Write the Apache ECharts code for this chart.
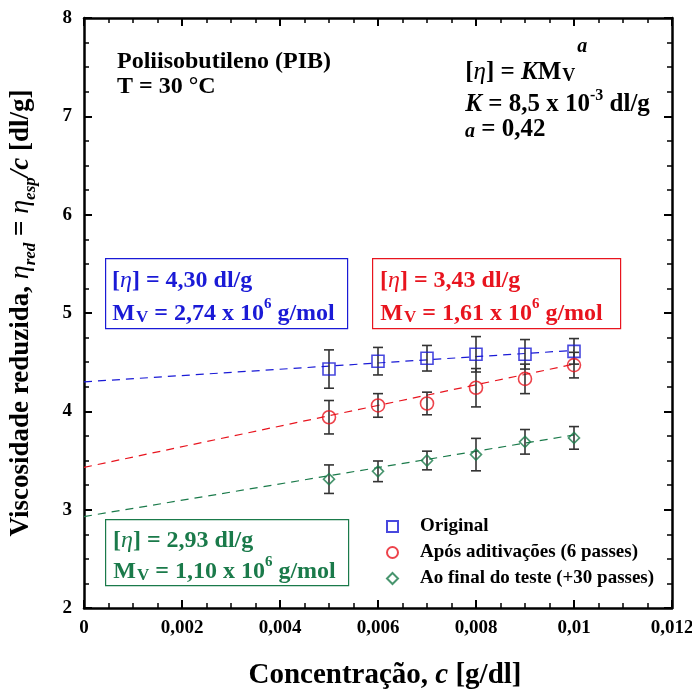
<!DOCTYPE html>
<html><head><meta charset="utf-8">
<script src="https://cdn.jsdelivr.net/npm/echarts@6/dist/echarts.min.js"></script>
<style>html,body{margin:0;padding:0;background:#fff}#c{width:692px;height:689px}</style>
</head><body><div id="c"></div>
<script>
var conc = [0.005, 0.006, 0.007, 0.008, 0.009, 0.010];
var original = [4.43, 4.51, 4.54, 4.58, 4.58, 4.61];
var originalErr = [0.195, 0.14, 0.13, 0.18, 0.15, 0.13];
var apos = [3.94, 4.06, 4.08, 4.24, 4.33, 4.47];
var aposErr = [0.17, 0.12, 0.115, 0.195, 0.15, 0.13];
var finalT = [3.31, 3.39, 3.50, 3.56, 3.69, 3.73];
var finalErr = [0.145, 0.105, 0.095, 0.165, 0.125, 0.115];
var fitX = [0, 0.010];
var fitOriginal = [4.30, 4.62];
var fitApos = [3.43, 4.48];
var fitFinal = [2.93, 3.76];
var seriesNames = ['Original', 'Após aditivações (6 passes)', 'Ao final do teste (+30 passes)'];
var xTicks = ['0', '0,002', '0,004', '0,006', '0,008', '0,01', '0,012'];

var FONT = '"Liberation Serif", "Times New Roman", serif';
var BLUE = '#1a1ad6', RED = '#e8141e', GREEN = '#1a7a4a';

function pairs(xs, ys) { return xs.map(function (x, i) { return [x, ys[i]]; }); }
function errData(xs, ys, es) { return xs.map(function (x, i) { return [x, ys[i] - es[i], ys[i] + es[i]]; }); }

function errSeries(data) {
  return {
    type: 'custom', silent: true, z: 3,
    renderItem: function (params, api) {
      var x = api.value(0);
      var lo = api.coord([x, api.value(1)]);
      var hi = api.coord([x, api.value(2)]);
      var w = 5;
      var st = { stroke: '#333', lineWidth: 1.6 };
      return { type: 'group', children: [
        { type: 'line', shape: { x1: lo[0], y1: lo[1], x2: hi[0], y2: hi[1] }, style: st },
        { type: 'line', shape: { x1: lo[0] - w, y1: lo[1], x2: lo[0] + w, y2: lo[1] }, style: st },
        { type: 'line', shape: { x1: hi[0] - w, y1: hi[1], x2: hi[0] + w, y2: hi[1] }, style: st }
      ]};
    },
    encode: { x: 0, y: [1, 2] },
    data: data
  };
}
function fitSeries(ys, color) {
  return { type: 'line', data: pairs(fitX, ys), symbol: 'none', silent: true, z: 2,
    lineStyle: { color: color, width: 1.2, type: [8, 6] } };
}

var chart = echarts.init(document.getElementById('c'), null, { renderer: 'canvas' });

var axisCommon = {
  axisLine: { show: true, onZero: false, lineStyle: { color: '#000', width: 2.5 } },
  axisTick: { show: true, inside: true, length: 8, lineStyle: { color: '#000', width: 2 } },
  minorTick: { show: true, splitNumber: 4, length: 5, lineStyle: { color: '#000', width: 1.5 } },
  splitLine: { show: false }
};

var yName = '{b|Viscosidade reduzida, }{i|η}{sub|red}{b| = }{i|η}{sub|esp}{bi|/c}{b| [dl/g]}';

var option = {
  animation: false,
  grid: { left: 84, right: 20, top: 18, bottom: 81, containLabel: false, outerBoundsMode: 'none' },
  xAxis: [
    Object.assign({
      type: 'value', min: 0, max: 0.012, interval: 0.002, position: 'bottom',
      axisLabel: { margin: 11, color: '#000', fontFamily: FONT, fontWeight: 'bold', fontSize: 19,
        formatter: function (v) { return xTicks[Math.round(v / 0.002)]; } },
      name: '{b|Concentração, }{bi|c}{b| [g/dl]}', nameLocation: 'middle', nameGap: 53,
      nameTextStyle: { padding: [0, 0, 0, 14], rich: {
        b: { fontFamily: FONT, fontWeight: 'bold', fontSize: 29, lineHeight: 30, color: '#000' },
        bi: { fontFamily: FONT, fontWeight: 'bold', fontStyle: 'italic', fontSize: 29, lineHeight: 30, color: '#000' } } }
    }, axisCommon),
    Object.assign({
      type: 'value', min: 0, max: 0.012, interval: 0.002, position: 'top',
      axisLabel: { show: false }
    }, axisCommon)
  ],
  yAxis: [
    Object.assign({
      type: 'value', min: 2, max: 8, interval: 1, position: 'left',
      axisLabel: { margin: 12, color: '#000', fontFamily: FONT, fontWeight: 'bold', fontSize: 19 },
      name: yName, nameLocation: 'middle', nameGap: 45,
      nameTextStyle: { rich: {
        b: { fontFamily: FONT, fontWeight: 'bold', fontSize: 27, color: '#000', lineHeight: 30, padding: [0, 0, 4, 0], verticalAlign: 'bottom' },
        bi: { fontFamily: FONT, fontWeight: 'bold', fontStyle: 'italic', fontSize: 27, color: '#000', lineHeight: 30, padding: [0, 0, 4, 0], verticalAlign: 'bottom' },
        i: { fontFamily: FONT, fontStyle: 'italic', fontSize: 28, color: '#000', lineHeight: 30, padding: [0, 0, 4, 0], verticalAlign: 'bottom' },
        sub: { fontFamily: FONT, fontStyle: 'italic', fontWeight: 'bold', fontSize: 17, color: '#000', lineHeight: 18, padding: [16, 0, 0, 0], verticalAlign: 'bottom' } } }
    }, axisCommon),
    Object.assign({
      type: 'value', min: 2, max: 8, interval: 1, position: 'right',
      axisLabel: { show: false }
    }, axisCommon)
  ],
  legend: {
    orient: 'vertical', left: 381, top: 511, itemGap: 5, itemWidth: 11, itemHeight: 11,
    data: seriesNames,
    textStyle: { fontFamily: FONT, fontWeight: 'bold', fontSize: 19, lineHeight: 21, color: '#000', padding: [0, 0, 0, 17] }
  },
  series: [
    fitSeries(fitOriginal, BLUE),
    fitSeries(fitApos, RED),
    fitSeries(fitFinal, GREEN),
    errSeries(errData(conc, original, originalErr)),
    errSeries(errData(conc, apos, aposErr)),
    errSeries(errData(conc, finalT, finalErr)),
    { name: seriesNames[0], type: 'scatter', data: pairs(conc, original), z: 5,
      symbol: 'rect', symbolSize: 12,
      itemStyle: { color: 'rgba(255,255,255,0)', borderColor: BLUE, borderWidth: 1.6 } },
    { name: seriesNames[1], type: 'scatter', data: pairs(conc, apos), z: 5,
      symbol: 'circle', symbolSize: 13,
      itemStyle: { color: 'rgba(255,255,255,0)', borderColor: RED, borderWidth: 1.6 } },
    { name: seriesNames[2], type: 'scatter', data: pairs(conc, finalT), z: 5,
      symbol: 'diamond', symbolSize: 11,
      itemStyle: { color: 'rgba(255,255,255,0)', borderColor: GREEN, borderWidth: 1.6 } }
  ],
  graphic: []
};

// rich text styles; base tokens are bottom aligned in a line box whose height is set by a spacer token
function richSet(color, size) {
  var lh = size + 2;
  return {
    n: { fontFamily: FONT, fontWeight: 'bold', fontSize: size, fill: color, lineHeight: lh, verticalAlign: 'bottom' },
    i: { fontFamily: FONT, fontStyle: 'italic', fontSize: size, fill: color, lineHeight: lh, verticalAlign: 'bottom' },
    bi: { fontFamily: FONT, fontStyle: 'italic', fontWeight: 'bold', fontSize: size, fill: color, lineHeight: lh, verticalAlign: 'bottom' },
    ai: { fontFamily: FONT, fontStyle: 'italic', fontWeight: 'bold', fontSize: Math.round(size * 0.78), fill: color, lineHeight: lh, verticalAlign: 'bottom' },
    sub: { fontFamily: FONT, fontWeight: 'bold', fontSize: Math.round(size * 0.72), fill: color, lineHeight: 16, verticalAlign: 'bottom', padding: [0, 0, 0, 1] },
    sup: { fontFamily: FONT, fontWeight: 'bold', fontSize: Math.round(size * 0.62), fill: color, lineHeight: 16, verticalAlign: 'top' },
    supa: { fontFamily: FONT, fontStyle: 'italic', fontWeight: 'bold', fontSize: Math.round(size * 0.8), fill: color, lineHeight: 16, verticalAlign: 'top', padding: [0, 0, 0, 2] },
    sp29: { fontSize: 1, lineHeight: 29, fill: 'rgba(0,0,0,0)', verticalAlign: 'top' },
    sp48: { fontSize: 1, lineHeight: 48, fill: 'rgba(0,0,0,0)', verticalAlign: 'top' }
  };
}
function txt(x, top, color, size, s) {
  return { type: 'text', left: x, top: top, z: 10, style: { text: s, rich: richSet(color, size) } };
}
function box(x, y, w, h, color) {
  return { type: 'rect', left: x, top: y, z: 9, shape: { x: 0, y: 0, width: w, height: h },
    style: { fill: '#fff', stroke: color, lineWidth: 1.2 } };
}

var BS = 24; // box text size
option.graphic = [
  box(105, 258, 242, 70, BLUE),
  txt(112, 282 - 13, BLUE, BS, '{n|[}{i|η}{n|] = 4,30 dl/g}'),
  txt(112, 313 - 16, BLUE, BS, '{sp29| }{n|M}{sub|V}{n| = 2,74 x 10}{sup|6}{n| g/mol}'),
  box(372, 258, 248, 70, RED),
  txt(380, 282 - 13, RED, BS, '{n|[}{i|η}{n|] = 3,43 dl/g}'),
  txt(380, 313 - 16, RED, BS, '{sp29| }{n|M}{sub|V}{n| = 1,61 x 10}{sup|6}{n| g/mol}'),
  box(105, 519, 243, 66, GREEN),
  txt(113, 542 - 13, GREEN, BS, '{n|[}{i|η}{n|] = 2,93 dl/g}'),
  txt(113, 571 - 16, GREEN, BS, '{sp29| }{n|M}{sub|V}{n| = 1,10 x 10}{sup|6}{n| g/mol}'),
  txt(117, 63 - 13, '#000', 24, '{n|Poliisobutileno (PIB)}'),
  txt(117, 88 - 13, '#000', 24, '{n|T = 30 °C}'),
  txt(465, 72 - 35, '#000', 25, '{sp48| }{n|[}{i|η}{n|] = }{bi|K}{n|M}{sub|V}{supa|a}'),
  txt(465, 104 - 16, '#000', 25, '{sp29| }{bi|K}{n| = 8,5 x 10}{sup|-3}{n| dl/g}'),
  txt(465, 130 - 13, '#000', 25, '{ai|a}{n| = 0,42}')
];

chart.setOption(option);
</script>
</body></html>
